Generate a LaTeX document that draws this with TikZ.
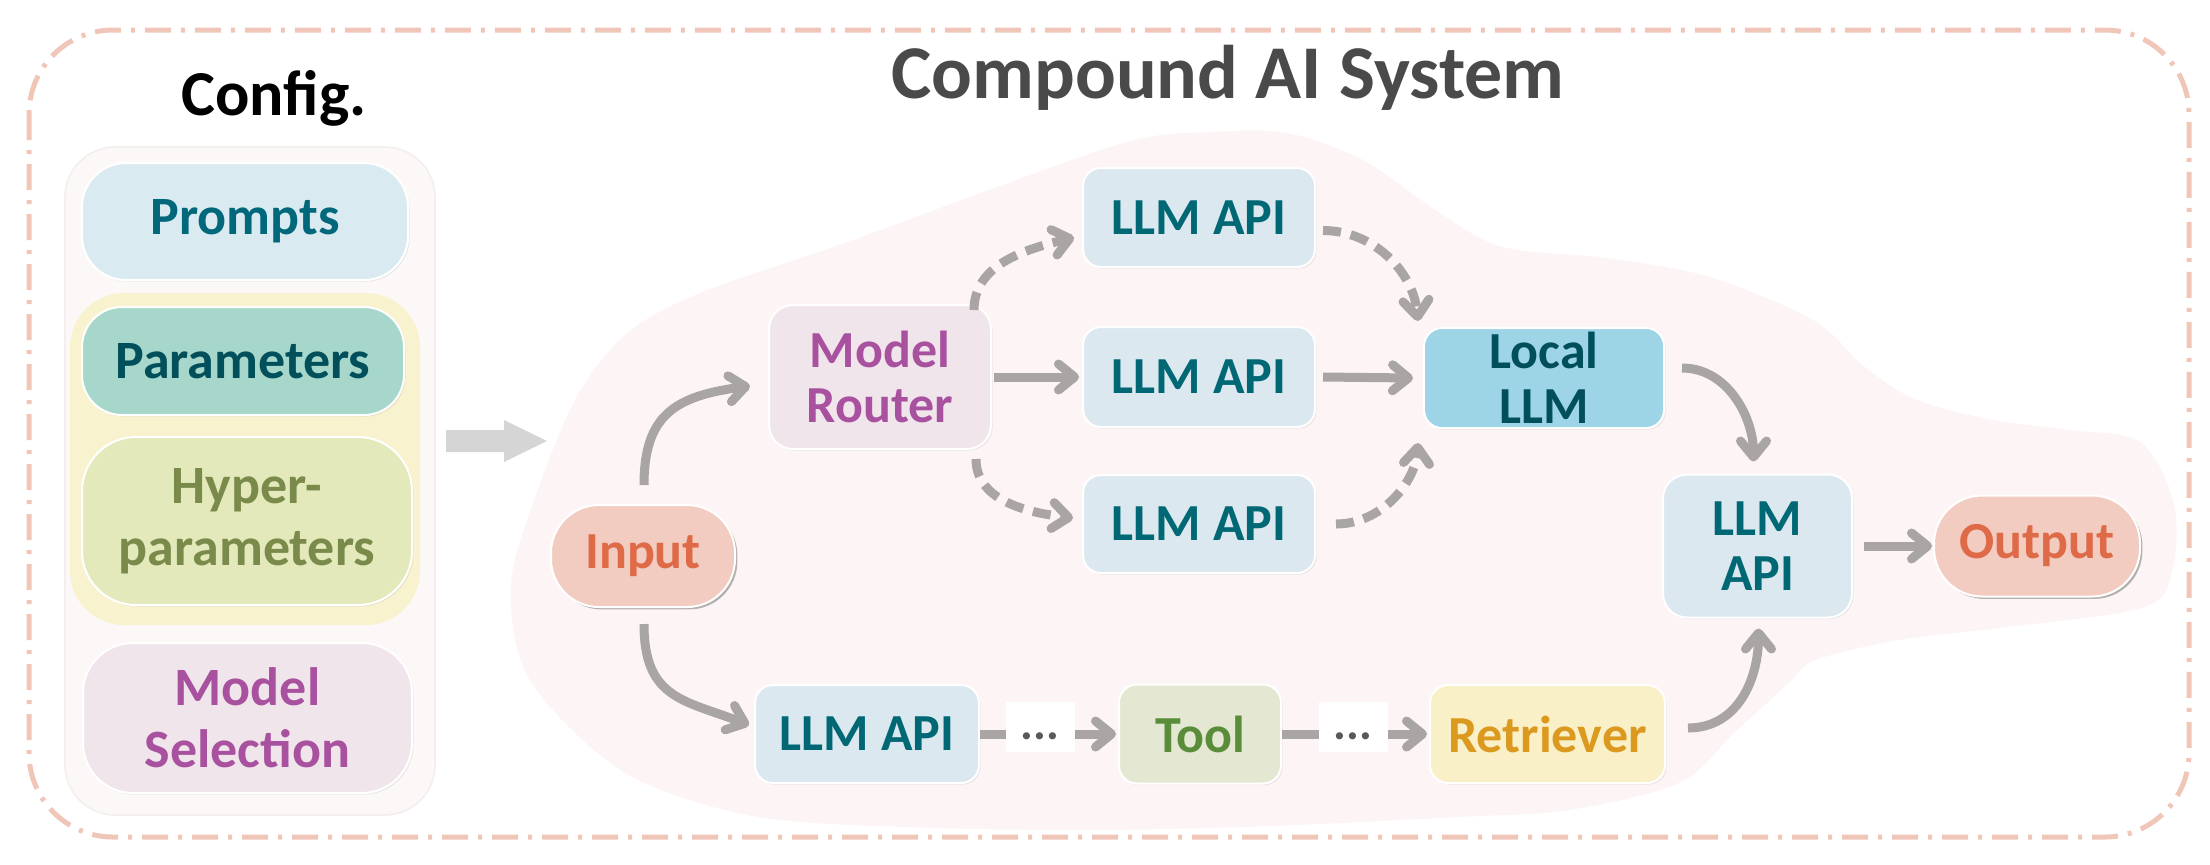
\documentclass[tikz,border=0pt]{standalone}
\usepackage{fontspec}
\setmainfont{Carlito}
\usetikzlibrary{arrows.meta,shadows,calc}
\definecolor{cPromptF}{HTML}{D9EBF1}\definecolor{cPromptT}{HTML}{00687A}
\definecolor{cParamF}{HTML}{A6D7CA}\definecolor{cParamT}{HTML}{004F5B}
\definecolor{cHyperF}{HTML}{E3E9BA}\definecolor{cHyperT}{HTML}{7A8A4B}
\definecolor{cYellowF}{HTML}{F8F3CE}
\definecolor{cSelF}{HTML}{F1E5EC}\definecolor{cSelT}{HTML}{A8519F}
\definecolor{cPanelF}{HTML}{FCF8F8}\definecolor{cPanelD}{HTML}{F4EEEE}
\definecolor{cIOF}{HTML}{F2CCC0}\definecolor{cIOT}{HTML}{DF6A48}
\definecolor{cApiF}{HTML}{DBE8EF}\definecolor{cApiT}{HTML}{006874}
\definecolor{cLocalF}{HTML}{9DD4E6}\definecolor{cLocalT}{HTML}{004F5B}
\definecolor{cToolF}{HTML}{E4E8D3}\definecolor{cToolT}{HTML}{5A8D3A}
\definecolor{cRetF}{HTML}{F9F0C7}\definecolor{cRetT}{HTML}{DB9A1F}
\definecolor{cArr}{HTML}{A8A5A4}
\definecolor{cCloud}{HTML}{FDF5F5}
\definecolor{cBorder}{HTML}{F0C6B8}
\definecolor{cBlock}{HTML}{D5D5D5}
\definecolor{cTitle}{HTML}{4A4A4A}
\begin{document}
\begin{tikzpicture}[x=0.5pt,y=-0.5pt,
  box/.style={rectangle, rounded corners=9pt, draw=white, line width=1pt, align=center,
    inner sep=0pt, font=\bfseries\fontsize{26pt}{27.5pt}\selectfont,
    drop shadow={shadow xshift=0.8pt, shadow yshift=-0.8pt, opacity=0.15}},
  lbox/.style={box, font=\bfseries\fontsize{27pt}{31pt}\selectfont},
  api/.style={box, fill=cApiF, text=cApiT},
  iobox/.style={box, rounded corners=24pt, fill=cIOF, text=cIOT,
    drop shadow={shadow xshift=1.2pt, shadow yshift=-1.2pt, opacity=0.55}},
  dotsbox/.style={rectangle, fill=white, inner sep=0pt, minimum width=34.5pt, minimum height=25pt,
    text height=12pt, text depth=0pt, text=black!65, font=\bfseries\fontsize{24pt}{24pt}\selectfont},
  arr/.style={draw=cArr, line width=4.5pt, -{Straight Barb[length=8pt,width=13pt,round]}},
  dsh/.style={dash pattern=on 9pt off 5pt},
  panel/.style={rectangle, inner sep=0pt}
]
\useasboundingbox (0,0) rectangle (2210,864);
% outer dashed frame
\draw[cBorder, line width=2.5pt, rounded corners=42pt, dash pattern=on 13pt off 5pt on 2pt off 5pt]
  (29,30) rectangle (2189,837);
% cloud background
\fill[cCloud] plot[smooth cycle, tension=0.55] coordinates {
 (511,583) (534,500) (575,400) (625,335) (700,293) (853,240) (1016,180) (1134,140)
 (1210,132) (1287,133) (1363,160) (1440,213) (1503,247) (1607,258) (1710,277)
 (1813,320) (1865,367) (1917,400) (1994,420) (2071,430) (2140,442) (2173,500)
 (2173,567) (2145,607) (2008,627) (1899,640) (1816,660) (1789,683) (1734,733)
 (1679,783) (1569,810) (1460,817) (1246,827) (1074,830) (902,827) (758,817)
 (644,783) (575,733) (523,667)};
% titles
\node[anchor=base, text=cTitle, font=\bfseries\fontsize{38pt}{40pt}\selectfont] (title) at (1228,98) {Compound AI System};
\node[anchor=base, text=black, font=\bfseries\fontsize{32pt}{34pt}\selectfont] (cfgtitle) at (274,115) {Config.};
% config panel
\node[panel, fill=cPanelF, draw=cPanelD, line width=0.8pt, rounded corners=25pt,
  minimum width=185pt, minimum height=334pt] (cfgpanel) at (250,481) {};
\node[panel, fill=cYellowF, rounded corners=27pt,
  minimum width=175pt, minimum height=166pt] (ygroup) at (245,459) {};
\node[lbox, fill=cPromptF, text=cPromptT, rounded corners=22pt,
  minimum width=163pt, minimum height=58.5pt] (prompts) at (245,221.5) {Prompts};
\node[lbox, fill=cParamF, text=cParamT, rounded corners=20pt,
  minimum width=161pt, minimum height=54pt] (params) at (243,361) {Parameters};
\node[lbox, fill=cHyperF, text=cHyperT, rounded corners=27pt,
  minimum width=165pt, minimum height=84pt] (hyper) at (247,521) {Hyper-\\parameters};
\node[lbox, fill=cSelF, text=cSelT, rounded corners=25pt,
  minimum width=164.5pt, minimum height=75pt] (modelsel) at (247.5,718) {Model\\Selection};
% block arrow
\fill[cBlock] (446,430) -- (504,430) -- (504,420) -- (547,441) -- (504,462) -- (504,452) -- (446,452) -- cycle;
% system nodes
\node[iobox, minimum width=92pt, minimum height=51pt] (in) at (643,556) {Input};
\node[box, fill=cSelF, text=cSelT, rounded corners=12pt, minimum width=111pt, minimum height=72pt] (mr) at (880,377) {Model\\Router};
\node[api, minimum width=116pt, minimum height=49.5pt] (lt) at (1199,217.5) {LLM API};
\node[api, minimum width=116pt, minimum height=50pt] (lm) at (1199,377) {LLM API};
\node[api, minimum width=116pt, minimum height=49pt] (ll) at (1199,524) {LLM API};
\node[box, fill=cLocalF, text=cLocalT, minimum width=120pt, minimum height=50pt] (local) at (1544,378) {Local\\LLM};
\node[api, rounded corners=12pt, minimum width=94.5pt, minimum height=71.5pt] (lr) at (1757.5,546) {LLM\\API};
\node[iobox, minimum width=103pt, minimum height=50.5pt] (out) at (2037,546) {Output};
\node[api, minimum width=112pt, minimum height=49pt] (lb) at (867,734) {LLM API};
\node[box, fill=cToolF, text=cToolT, minimum width=81pt, minimum height=49.5pt] (tool) at (1200,734) {Tool};
\node[box, fill=cRetF, text=cRetT, minimum width=117.5pt, minimum height=49pt] (ret) at (1547.5,734) {Retriever};
% connectors
\draw[arr] ($(in.north)+(1,-19)$) .. controls +(0,-70) and +(-75,10) .. ($(mr.west)+(-18,9)$);
\draw[arr] ($(in.south)+(1,16)$) .. controls +(0,75) and +(-65,-25) .. ($(lb.west)+(-5,-9)$);
\draw[arr,dsh] ($(mr.north east)+(-18,6)$) .. controls +(0,-45) and +(-50,12) .. ($(lt.west)+(-8,20)$);
\draw[arr] ($(mr.east)+(2,0)$) -- ($(lm.west)+(-3,0)$);
\draw[arr,dsh] ($(mr.south east)+(-16,9)$) .. controls +(0,40) and +(-50,-6) .. ($(ll.west)+(-9,-6)$);
\draw[arr,dsh] ($(lt.east)+(7,13)$) .. controls +(50,0) and +(-5,-50) .. ($(local.north west)+(-5,-6)$);
\draw[arr] ($(lm.east)+(7,0)$) -- ($(local.west)+(-10,0)$);
\draw[arr,dsh] ($(ll.east)+(20,0)$) .. controls +(45,0) and +(-3,40) .. ($(local.south west)+(-5,14)$);
\draw[arr] ($(local.east)+(17,-10)$) .. controls +(45,0) and +(0,-45) .. ($(lr.north)+(-4,-12)$);
\draw[arr] ($(ret.east)+(22,-6)$) .. controls +(50,0) and +(0,50) .. ($(lr.south)+(1,10)$);
\draw[arr] ($(lr.east)+(11,0)$) -- ($(out.west)+(-1,0)$);
\draw[arr] (lb.east) -- ($(tool.west)+(-2,0)$);
\draw[arr] (tool.east) -- ($(ret.west)+(-2,0)$);
\node[dotsbox] (d1) at (1040,727) {...};
\node[dotsbox] (d2) at (1353,727) {...};
\end{tikzpicture}
\end{document}
